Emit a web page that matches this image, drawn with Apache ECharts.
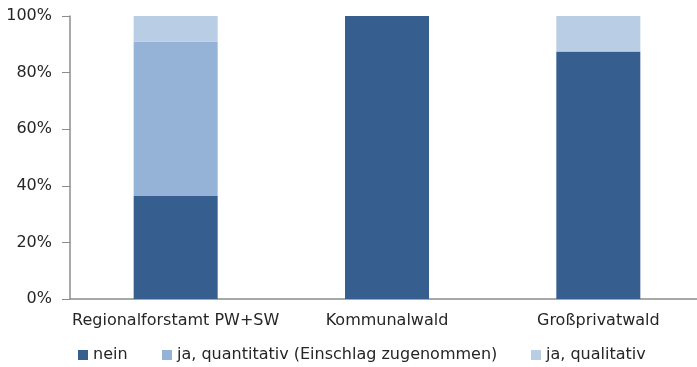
<!DOCTYPE html>
<html><head><meta charset="utf-8">
<script src="https://cdn.jsdelivr.net/npm/echarts@6/dist/echarts.min.js"></script>
<style>html,body{margin:0;padding:0;background:#fff;overflow:hidden}#c{width:704px;height:367px}</style>
</head><body><div id="c"></div>
<script>
const categories = ['Regionalforstamt PW+SW', 'Kommunalwald', 'Großprivatwald'];
const seriesNames = ['nein', 'ja, quantitativ (Einschlag zugenommen)', 'ja, qualitativ'];
const nein = [36.4, 100, 87.5];
const quantitativ = [54.5, 0, 0];
const qualitativ = [9.1, 0, 12.5];
const yTicks = [0, 20, 40, 60, 80, 100];
const colors = ['#365E8F', '#95B3D7', '#B9CDE5'];
const FONT = 'DejaVu Sans';
const FS = 16;
const TXT = '#262626';
const legendLeft = [73, 157, 526];
const chart = echarts.init(document.getElementById('c'));
const values = [nein, quantitativ, qualitativ];
chart.setOption({
  animation: false,
  textStyle: {fontFamily: FONT},
  grid: {left: 70, top: 16, right: 0, height: 283, containLabel: false},
  legend: seriesNames.map((n, i) => ({
    top: 342, left: legendLeft[i], itemWidth: 10, itemHeight: 10, icon: 'rect', itemGap: 0,
    textStyle: {fontFamily: FONT, fontSize: FS, color: TXT},
    data: [n]
  })),
  xAxis: {
    type: 'category', data: categories,
    axisLine: {lineStyle: {color: '#8c8c8c', width: 1.5}},
    axisTick: {show: false},
    axisLabel: {fontFamily: FONT, fontSize: FS, color: TXT, margin: 14, interval: 0}
  },
  yAxis: {
    type: 'value', min: 0, max: 100, interval: 20,
    axisLine: {show: true, lineStyle: {color: '#8c8c8c', width: 1.5}},
    axisTick: {show: true, length: 8, lineStyle: {color: '#8c8c8c'}},
    splitLine: {show: false},
    axisLabel: {fontFamily: FONT, fontSize: FS, color: TXT, margin: 18,
      formatter: v => yTicks.includes(v) ? v + '%' : ''}
  },
  series: values.map((d, i) => ({
    name: seriesNames[i], type: 'bar', stack: 'total', data: d,
    barWidth: 84, itemStyle: {color: colors[i]}
  }))
});
</script></body></html>
